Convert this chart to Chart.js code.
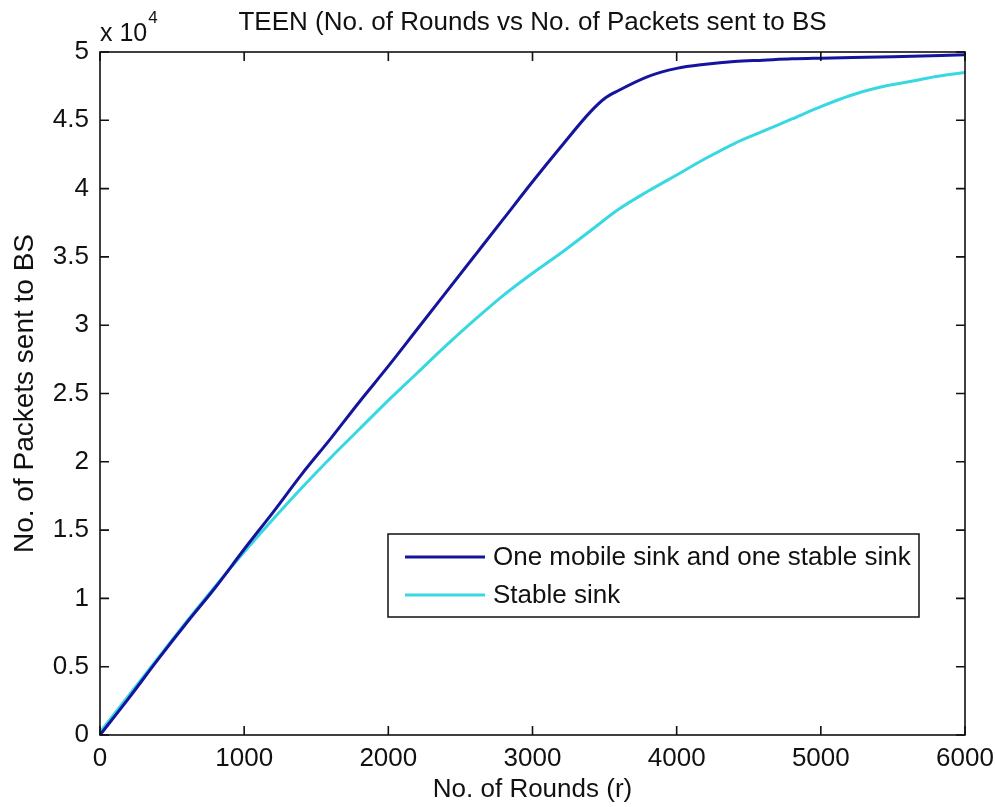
<!DOCTYPE html>
<html>
<head>
<meta charset="utf-8">
<title>TEEN packets vs rounds</title>
<script src="https://cdn.jsdelivr.net/npm/chart.js@4.4.0/dist/chart.umd.min.js"></script>
<style>
  html, body { margin: 0; padding: 0; background: #fff; }
  #wrap { width: 995px; height: 807px; }
</style>
</head>
<body>
<div id="wrap"><canvas id="chart" width="995" height="807"></canvas></div>
<script>
// rounds (r) and packets delivered to the base station
const mobileRounds = [0, 200, 400, 600, 800, 1000, 1200, 1400, 1600, 1800, 2000, 2200, 2400, 2600, 2800, 3000, 3200, 3400, 3500, 3600, 3800, 4000, 4200, 4400, 4600, 4800, 5000, 5500, 6000];
const mobilePackets = [0, 2700, 5500, 8200, 10800, 13600, 16300, 19100, 21700, 24400, 27000, 29700, 32400, 35100, 37800, 40500, 43100, 45600, 46600, 47200, 48200, 48800, 49100, 49300, 49400, 49500, 49550, 49650, 49800];

const stableRounds = [0, 200, 400, 600, 800, 1000, 1200, 1400, 1600, 1800, 2000, 2200, 2400, 2600, 2800, 3000, 3200, 3400, 3600, 3800, 4000, 4200, 4400, 4600, 4800, 5000, 5200, 5400, 5600, 5800, 6000];
const stablePackets = [200, 2900, 5600, 8300, 10900, 13400, 15800, 18100, 20300, 22400, 24500, 26500, 28500, 30400, 32200, 33800, 35300, 36900, 38500, 39800, 41000, 42200, 43300, 44200, 45100, 46000, 46800, 47400, 47800, 48200, 48500];

const seriesNames = ["One mobile sink and one stable sink", "Stable sink"];
const seriesColors = ["#14149e", "#38d8e2"];
const xTicks = [0, 1000, 2000, 3000, 4000, 5000, 6000];
const yTicks = [0, 5000, 10000, 15000, 20000, 25000, 30000, 35000, 40000, 45000, 50000];

const FONT = "'Liberation Sans', Arial, sans-serif";
const toPoints = (xs, ys) => xs.map((x, i) => ({ x: x, y: ys[i] }));

// box around the plot with inward ticks on all four sides, plus the exponent label
const boxPlugin = {
  id: "box",
  afterDatasetsDraw(chart) {
    const { ctx, chartArea: a, scales } = chart;
    const len = 9;
    ctx.save();
    ctx.strokeStyle = "#111";
    ctx.lineWidth = 1.6;
    ctx.strokeRect(a.left, a.top, a.right - a.left, a.bottom - a.top);
    ctx.beginPath();
    xTicks.forEach(v => {
      const px = scales.x.getPixelForValue(v);
      ctx.moveTo(px, a.bottom); ctx.lineTo(px, a.bottom - len);
      ctx.moveTo(px, a.top); ctx.lineTo(px, a.top + len);
    });
    yTicks.forEach(v => {
      const py = scales.y.getPixelForValue(v);
      ctx.moveTo(a.left, py); ctx.lineTo(a.left + len, py);
      ctx.moveTo(a.right, py); ctx.lineTo(a.right - len, py);
    });
    ctx.stroke();

    ctx.fillStyle = "#111";
    ctx.textBaseline = "alphabetic";
    ctx.textAlign = "left";
    ctx.font = "25px " + FONT;
    ctx.fillText("x 10", a.left, a.top - 11);
    const w = ctx.measureText("x 10").width;
    ctx.font = "17px " + FONT;
    ctx.fillText("4", a.left + w + 1, a.top - 29);
    ctx.restore();
  }
};

// legend drawn inside the plot, lower right
const legendBox = {
  id: "legendBox",
  afterDraw(chart) {
    const { ctx } = chart;
    const x0 = 388, y0 = 534, w = 531, h = 83;
    ctx.save();
    ctx.fillStyle = "#fff";
    ctx.fillRect(x0, y0, w, h);
    ctx.strokeStyle = "#111";
    ctx.lineWidth = 1.5;
    ctx.strokeRect(x0, y0, w, h);
    ctx.font = "26px " + FONT;
    ctx.textBaseline = "middle";
    ctx.textAlign = "left";
    chart.data.datasets.forEach((ds, i) => {
      const y = y0 + 23 + i * 38;
      ctx.strokeStyle = ds.borderColor;
      ctx.lineWidth = 3;
      ctx.beginPath();
      ctx.moveTo(x0 + 17, y);
      ctx.lineTo(x0 + 97, y);
      ctx.stroke();
      ctx.fillStyle = "#111";
      ctx.fillText(ds.label, x0 + 105, y + 1);
    });
    ctx.restore();
  }
};

new Chart(document.getElementById("chart"), {
  type: "line",
  data: {
    datasets: [
      {
        label: seriesNames[0],
        data: toPoints(mobileRounds, mobilePackets),
        borderColor: seriesColors[0],
        borderWidth: 3,
        pointRadius: 0,
        cubicInterpolationMode: "monotone",
        fill: false
      },
      {
        label: seriesNames[1],
        data: toPoints(stableRounds, stablePackets),
        borderColor: seriesColors[1],
        borderWidth: 3,
        pointRadius: 0,
        cubicInterpolationMode: "monotone",
        fill: false
      }
    ]
  },
  options: {
    responsive: false,
    animation: false,
    layout: { padding: { top: 0, left: 0, right: 30, bottom: 0 } },
    plugins: {
      legend: { display: false },
      tooltip: { enabled: false },
      title: {
        display: true,
        fullSize: false,
        text: "TEEN (No. of Rounds vs No. of Packets sent to BS",
        color: "#111",
        font: { family: FONT, size: 26, weight: "normal", lineHeight: 1.2 },
        padding: { top: 7, bottom: 13.8 }
      }
    },
    scales: {
      x: {
        type: "linear",
        min: 0,
        max: 6000,
        afterBuildTicks: s => { s.ticks = xTicks.map(v => ({ value: v })); },
        afterFit: s => { s.height = 72; s.paddingLeft = 0; s.paddingRight = 0; },
        grid: { display: false, drawTicks: false },
        border: { display: false },
        ticks: {
          color: "#111",
          padding: 8,
          maxRotation: 0,
          font: { family: FONT, size: 26 },
          callback: v => String(v)
        },
        title: {
          display: true,
          text: "No. of Rounds (r)",
          color: "#111",
          font: { family: FONT, size: 26, lineHeight: 1.2 },
          padding: { top: 2, bottom: 2 }
        }
      },
      y: {
        type: "linear",
        min: 0,
        max: 50000,
        afterBuildTicks: s => { s.ticks = yTicks.map(v => ({ value: v })); },
        afterFit: s => { s.width = 100; s.paddingTop = 0; s.paddingBottom = 0; },
        grid: { display: false, drawTicks: false },
        border: { display: false },
        ticks: {
          color: "#111",
          padding: 11,
          font: { family: FONT, size: 26 },
          callback: v => String(v / 10000)
        },
        title: {
          display: true,
          text: "No. of Packets sent to BS",
          color: "#111",
          font: { family: FONT, size: 28, lineHeight: 1.2 },
          padding: { top: 8, bottom: 4 }
        }
      }
    }
  },
  plugins: [boxPlugin, legendBox]
});
</script>
</body>
</html>
